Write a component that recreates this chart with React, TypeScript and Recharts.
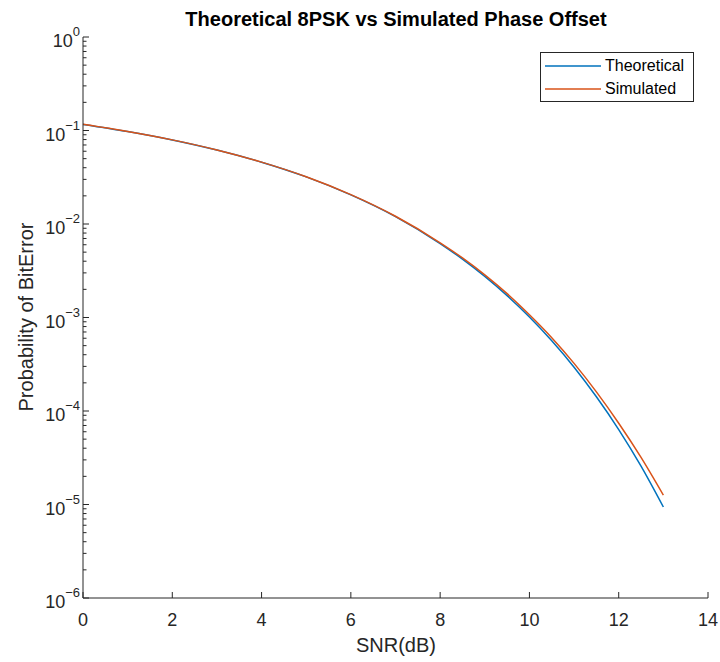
import React from 'react';
import { LineChart, Line, XAxis, YAxis } from 'recharts';

const snr = [0, 1, 2, 3, 4, 5, 6, 7, 8, 8.5, 9, 9.5, 10, 10.5, 11, 11.5, 12, 12.5, 13];
const theoretical = [
  0.1163, 0.0976, 0.0793, 0.0618, 0.0458, 0.0319, 0.0205, 0.012, 0.00618, 0.00421, 0.00275,
  0.001712, 0.001011, 0.000563, 0.000294, 0.000142, 6.33e-5, 2.57e-5, 9.4e-6,
];
const simulated = [
  0.1165, 0.0977, 0.0794, 0.0619, 0.0459, 0.032, 0.0206, 0.0121, 0.0063, 0.00434, 0.00286,
  0.0018, 0.00107, 0.000608, 0.000323, 0.00016, 7.4e-5, 3.19e-5, 1.26e-5,
];
const xTicks = [0, 2, 4, 6, 8, 10, 12, 14];
const decades = [-6, -5, -4, -3, -2, -1, 0];
const yTicks: number[] = [];
decades.forEach((d) => {
  if (d === 0) { yTicks.push(1); return; }
  for (let m = 1; m <= 9; m++) yTicks.push(Number((m * Math.pow(10, d)).toPrecision(3)));
});

const data = snr.map((s, i) => ({ snr: s, theoretical: theoretical[i], simulated: simulated[i] }));

const FONT = '"Liberation Sans", Arial, Helvetica, sans-serif';
const AXIS = '#262626';
const BLUE = '#0072BD';
const ORANGE = '#D95319';

const isDecade = (v: number) => Math.abs(Math.log10(v) - Math.round(Math.log10(v))) < 1e-6;

const BottomTick = (props: any) => {
  const { x, y, payload } = props;
  return (
    <g>
      <line x1={x} y1={y} x2={x} y2={y - 6} stroke={AXIS} />
      <text x={x} y={y + 28} textAnchor="middle" fontSize={18} fill={AXIS} fontFamily={FONT}>
        {payload.value}
      </text>
    </g>
  );
};

const TopTick = (props: any) => {
  const { x, y } = props;
  return <line x1={x} y1={y} x2={x} y2={y + 6} stroke={AXIS} />;
};

const LeftTick = (props: any) => {
  const { x, y, payload } = props;
  const v = payload.value;
  const major = isDecade(v);
  const exp = Math.round(Math.log10(v));
  return (
    <g>
      <line x1={x} y1={y} x2={x + (major ? 6 : 3.5)} y2={y} stroke={AXIS} />
      {major && (
        <text x={x - 3} y={y + 10} textAnchor="end" fontSize={18} fill={AXIS} fontFamily={FONT}>
          <tspan>10</tspan>
          <tspan dy={-11} fontSize={13}>{exp < 0 ? '\u2212' + Math.abs(exp) : String(exp)}</tspan>
        </text>
      )}
    </g>
  );
};

const RightTick = (props: any) => {
  const { x, y, payload } = props;
  const major = isDecade(payload.value);
  return <line x1={x} y1={y} x2={x - (major ? 6 : 3.5)} y2={y} stroke={AXIS} />;
};

export default function App() {
  return (
    <div style={{ position: 'absolute', left: 0, top: 0, width: 720, height: 662, background: '#fff', fontFamily: FONT }}>
      <LineChart width={720} height={662} data={data} margin={{ top: 37, right: 12, left: 0, bottom: 0 }}>
        <XAxis
          dataKey="snr"
          type="number"
          domain={[0, 14]}
          ticks={xTicks}
          interval={0}
          height={64}
          tickSize={0}
          tickMargin={0}
          tickLine={false}
          axisLine={{ stroke: AXIS }}
          tick={<BottomTick />}
        />
        <XAxis
          xAxisId="top"
          orientation="top"
          dataKey="snr"
          type="number"
          domain={[0, 14]}
          ticks={xTicks}
          interval={0}
          height={0}
          tickSize={0}
          tickMargin={0}
          tickLine={false}
          axisLine={{ stroke: AXIS }}
          tick={<TopTick />}
        />
        <YAxis
          type="number"
          scale="log"
          domain={[1e-6, 1]}
          allowDataOverflow
          ticks={yTicks}
          interval={0}
          width={83}
          tickSize={0}
          tickMargin={0}
          tickLine={false}
          axisLine={{ stroke: AXIS }}
          tick={<LeftTick />}
        />
        <YAxis
          yAxisId="right"
          orientation="right"
          type="number"
          scale="log"
          domain={[1e-6, 1]}
          allowDataOverflow
          ticks={yTicks}
          interval={0}
          width={0}
          tickSize={0}
          tickMargin={0}
          tickLine={false}
          axisLine={{ stroke: AXIS }}
          tick={<RightTick />}
        />
        <Line type="monotone" dataKey="theoretical" stroke={BLUE} strokeWidth={1.5} dot={false} isAnimationActive={false} />
        <Line
          type="monotone"
          dataKey="simulated"
          xAxisId="top"
          yAxisId="right"
          stroke={ORANGE}
          strokeWidth={1.5}
          dot={false}
          isAnimationActive={false}
        />
      </LineChart>

      <div style={{ position: 'absolute', left: 0, width: 792, top: 7, textAlign: 'center', fontSize: 20, fontWeight: 'bold', color: '#000', lineHeight: '24px', whiteSpace: 'nowrap' }}>
        Theoretical 8PSK vs Simulated Phase Offset
      </div>
      <div style={{ position: 'absolute', left: 0, width: 792, top: 633, textAlign: 'center', fontSize: 20, color: AXIS, lineHeight: '24px' }}>
        SNR(dB)
      </div>
      <div style={{ position: 'absolute', left: 26, top: 317, width: 0, height: 0 }}>
        <div style={{ position: 'absolute', left: -150, top: -12, width: 300, textAlign: 'center', fontSize: 20, color: AXIS, lineHeight: '24px', transform: 'rotate(-90deg)', whiteSpace: 'nowrap' }}>
          Probability of BitError
        </div>
      </div>

      <div style={{ position: 'absolute', left: 540, top: 52, width: 152, height: 48, border: `1px solid ${AXIS}`, background: '#fff' }}>
        {[{ name: 'Theoretical', color: BLUE }, { name: 'Simulated', color: ORANGE }].map((s, i) => (
          <div key={s.name} style={{ position: 'absolute', left: 4, top: 3 + i * 23, height: 20, display: 'flex', alignItems: 'center' }}>
            <svg width={56} height={4} style={{ marginRight: 4 }}>
              <line x1={0} y1={2} x2={56} y2={2} stroke={s.color} strokeWidth={1.5} />
            </svg>
            <span style={{ fontSize: 16, color: '#000', lineHeight: '20px' }}>{s.name}</span>
          </div>
        ))}
      </div>
    </div>
  );
}
